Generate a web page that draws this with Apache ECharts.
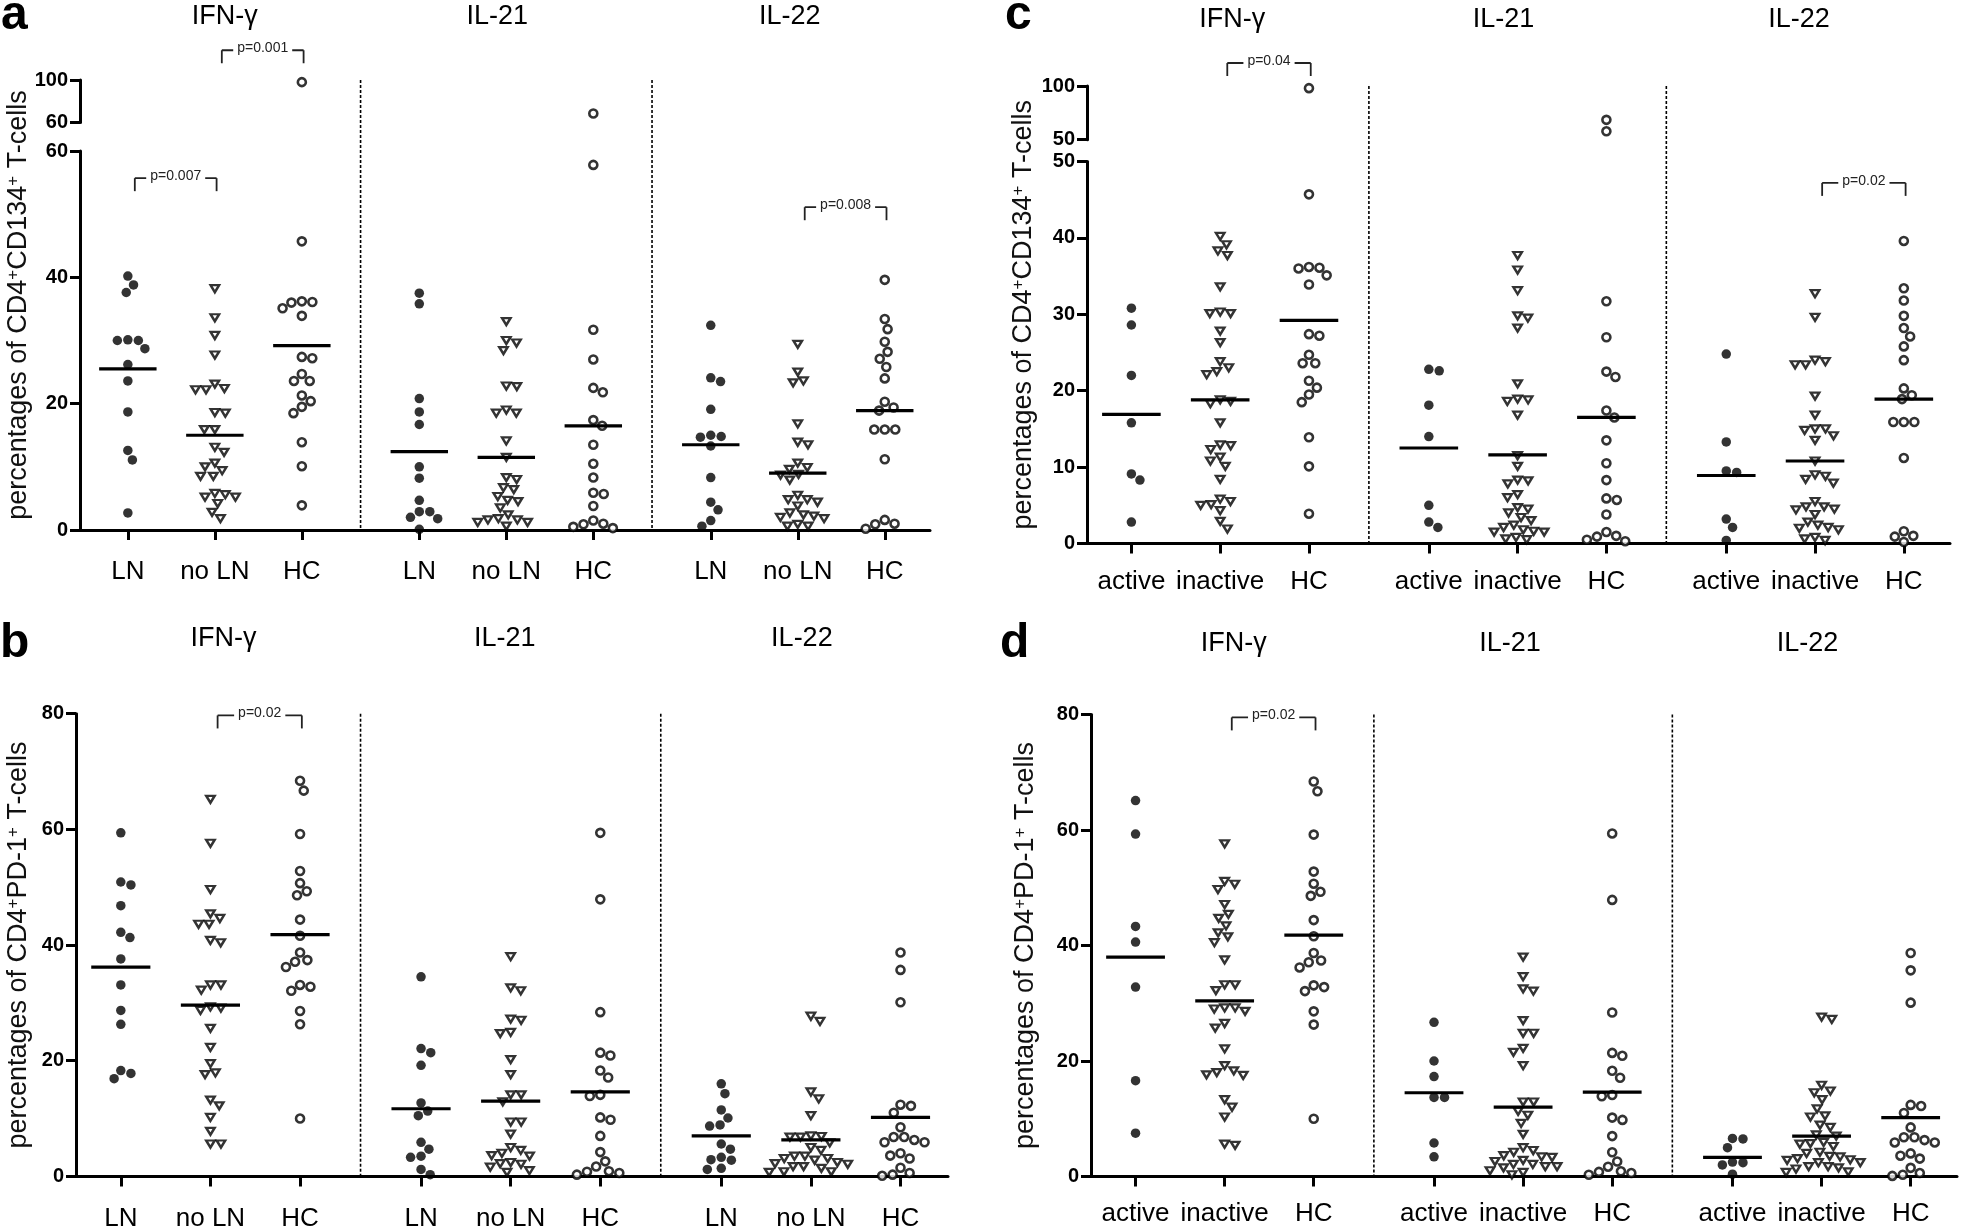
<!DOCTYPE html>
<html><head><meta charset="utf-8">
<script src="https://cdn.jsdelivr.net/npm/echarts@6/dist/echarts.min.js"></script>
<style>html,body{margin:0;padding:0;background:#fff}#c{width:1961px;height:1232px}</style>
</head><body><div id="c"></div>
<script>
const FONT = "'Liberation Sans', Arial, Helvetica, sans-serif";

// ---------- labels ----------
const groupTitles = ['IFN-γ', 'IL-21', 'IL-22'];
const catsLN = ['LN', 'no LN', 'HC'];
const catsActivity = ['active', 'inactive', 'HC'];
const nameCD134 = 'percentages of CD4{s|+}CD134{s|+} T-cells';
const namePD1 = 'percentages of CD4{s|+}PD-1{s|+} T-cells';

// ---------- healthy controls (shared by a/c and by b/d) ----------
const hcCD134_IFN = [98, 45.7, 36.2, 36.1, 36.0, 35.1, 33.9, 27.4, 27.2, 24.7, 23.6, 23.6, 21.3, 20.4, 19.5, 18.5, 13.9, 10.1, 3.9];
const hcCD134_IL21 = [68.5, 57.8, 31.7, 27.0, 22.5, 21.8, 17.4, 16.5, 13.5, 10.5, 8.3, 5.7, 5.9, 3.8, 1.5, 0.9, 0.3, 0.5, 1.0];
const hcCD134_IL22 = [39.6, 33.4, 31.8, 29.8, 28.2, 27.1, 25.8, 24.0, 20.3, 19.4, 18.9, 15.9, 15.9, 15.9, 11.2, 1.0, 0.2, 0.9, 1.6];
const hcPD1_IFN = [68.4, 66.7, 59.2, 52.8, 50.7, 49.3, 48.6, 44.4, 41.6, 38.7, 37.1, 36.2, 37.4, 33.1, 32.1, 32.8, 28.6, 26.3, 10.0];
const hcPD1_IL21 = [59.4, 47.9, 28.4, 20.9, 21.4, 18.3, 17.1, 13.9, 14.1, 10.2, 9.8, 7.0, 4.2, 1.7, 0.8, 0.3, 0.6, 0.9, 2.6];
const hcPD1_IL22 = [38.7, 35.7, 30.1, 12.4, 11.0, 12.2, 8.5, 6.8, 5.9, 5.9, 6.3, 6.8, 3.6, 3.1, 4.0, 0.6, 0.1, 0.3, 1.5];

// ---------- panel a (CD134, LN / no LN) ----------
const a_IFN_LN = [40.2, 38.8, 37.6, 30.1, 30.0, 30.0, 28.7, 26.2, 23.6, 18.7, 12.6, 11.1, 2.7];
const a_IFN_noLN = [38.2, 33.6, 30.8, 27.7, 23.1, 22.2, 22.2, 22.4, 18.5, 18.6, 15.9, 15.9, 13.1, 12.3, 10.6, 10.0, 9.4, 8.5, 8.5, 5.6, 5.2, 5.2, 5.8, 4.2, 2.8, 1.8];
const a_IL21_LN = [37.5, 35.8, 20.8, 18.7, 16.7, 10.0, 8.2, 4.7, 2.9, 2.9, 2.0, 1.8, 0.1];
const a_IL21_noLN = [33.0, 29.6, 30.0, 28.4, 22.7, 22.8, 18.5, 18.5, 19.0, 14.1, 11.5, 8.0, 8.3, 6.4, 6.7, 5.3, 4.5, 4.7, 3.5, 2.4, 1.6, 1.2, 1.2, 1.6, 1.8, 0.6];
const a_IL22_LN = [32.4, 24.1, 23.5, 19.1, 15.0, 14.7, 14.8, 13.3, 8.3, 4.4, 3.2, 1.5, 0.6];
const a_IL22_noLN = [29.4, 25.0, 23.6, 23.3, 16.8, 13.9, 13.5, 10.6, 9.6, 8.7, 7.9, 8.8, 9.9, 5.5, 4.8, 4.8, 3.8, 4.4, 2.7, 2.4, 2.0, 2.2, 1.8, 0.9, 0.6, 0.6];
const meansA = [[25.5, 15.0, 29.2], [12.4, 11.5, 16.5], [13.5, 9.0, 18.9]];
const bracketsA = [{from: 0, to: 1, y: 55.7, text: 'p=0.007'}, {from: 1, to: 2, y: 128, text: 'p=0.001'}, {from: 7, to: 8, y: 51.1, text: 'p=0.008'}];

// ---------- panel c (CD134, active / inactive) ----------
const c_IFN_active = [30.8, 28.6, 22.0, 15.8, 9.1, 8.3, 2.8];
const c_IFN_inactive = [40.2, 39.1, 38.3, 37.7, 33.6, 30.1, 30.1, 30.3, 27.8, 26.3, 23.8, 22.5, 22.1, 23.0, 18.8, 18.3, 18.6, 15.8, 12.8, 12.9, 12.3, 11.3, 10.8, 10.1, 8.4, 5.5, 5.0, 4.3, 5.1, 5.8, 2.9, 1.9];
const c_IL21_active = [22.6, 22.8, 18.1, 14.0, 5.0, 2.1, 2.8];
const c_IL21_inactive = [37.7, 35.8, 33.1, 29.5, 29.8, 28.2, 20.9, 18.9, 18.6, 18.8, 16.8, 11.5, 10.1, 8.2, 8.3, 7.8, 6.4, 6.0, 4.7, 4.5, 4.0, 3.4, 3.0, 2.4, 2.1, 1.8, 1.5, 1.6, 1.5, 0.8, 0.5, 0.6];
const c_IL22_active = [24.8, 13.3, 9.3, 9.5, 3.2, 2.1, 0.4];
const c_IL22_inactive = [32.7, 29.6, 23.8, 23.4, 23.4, 24.0, 19.3, 16.8, 15.0, 14.1, 13.5, 14.8, 15.0, 10.8, 9.0, 8.4, 7.9, 8.8, 4.8, 4.5, 4.8, 5.5, 3.8, 4.4, 2.8, 2.4, 2.0, 1.8, 2.1, 0.8, 0.4, 0.6];
const meansC = [[16.9, 18.8, 29.2], [12.5, 11.6, 16.5], [8.9, 10.8, 18.9]];
const bracketsC = [{from: 1, to: 2, y: 121.4, text: 'p=0.04'}, {from: 7, to: 8, y: 47.2, text: 'p=0.02'}];

// ---------- panel b (PD-1, LN / no LN) ----------
const b_IFN_LN = [59.4, 50.9, 50.4, 46.8, 42.2, 41.3, 37.6, 33.1, 28.7, 26.3, 18.3, 17.8, 16.9];
const b_IFN_noLN = [65.2, 57.6, 49.6, 45.4, 43.6, 43.6, 44.6, 40.4, 40.8, 33.1, 32.2, 33.1, 29.3, 28.7, 29.1, 25.6, 22.3, 19.5, 17.9, 17.6, 13.2, 12.2, 10.2, 7.8, 5.6, 5.6];
const b_IL21_LN = [34.5, 22.1, 21.4, 19.2, 12.7, 11.3, 10.5, 5.9, 4.7, 3.5, 3.3, 1.2, 0.3];
const b_IL21_noLN = [38.0, 32.6, 32.1, 27.0, 27.2, 24.7, 24.9, 20.2, 17.6, 14.1, 14.1, 12.9, 9.4, 9.4, 7.3, 4.5, 3.6, 3.5, 4.0, 5.0, 2.4, 1.6, 0.7, 1.0, 2.1, 2.2];
const b_IL22_LN = [16.0, 14.3, 11.5, 10.1, 8.7, 8.9, 5.6, 4.7, 3.3, 2.9, 2.8, 1.2, 1.4];
const b_IL22_noLN = [27.7, 26.8, 13.4, 14.6, 10.5, 7.0, 6.8, 6.9, 6.8, 5.8, 5.0, 4.5, 3.5, 3.1, 3.1, 3.5, 2.8, 2.4, 2.1, 1.7, 1.4, 1.7, 2.2, 0.8, 0.7, 0.8];
const meansB = [[36.2, 29.6, 41.8], [11.7, 13.0, 14.6], [7.0, 6.3, 10.2]];
const bracketsB = [{from: 1, to: 2, y: 79.7, text: 'p=0.02'}];

// ---------- panel d (PD-1, active / inactive) ----------
const d_IFN_active = [65.1, 59.3, 43.3, 40.6, 32.8, 16.6, 7.5];
const d_IFN_inactive = [57.6, 51.1, 49.7, 50.6, 47.1, 45.4, 43.4, 44.7, 41.5, 40.5, 42.2, 37.5, 33.2, 32.2, 33.2, 29.0, 28.6, 29.2, 29.2, 26.5, 25.7, 22.1, 18.3, 17.6, 17.5, 18.0, 19.2, 13.3, 12.0, 10.3, 5.4, 5.6];
const d_IL21_active = [26.7, 20.0, 17.3, 13.7, 13.7, 5.8, 3.4];
const d_IL21_inactive = [38.0, 34.6, 32.5, 32.1, 27.0, 24.8, 24.8, 22.2, 21.5, 19.2, 12.9, 12.9, 11.3, 10.6, 9.2, 7.3, 5.0, 4.5, 3.6, 3.3, 3.4, 4.2, 2.1, 1.7, 1.7, 2.1, 1.5, 1.0, 0.7, 2.8, 2.6, 0.3];
const d_IL22_active = [6.6, 6.5, 5.0, 2.5, 2.4, 2.0, 0.4];
const d_IL22_inactive = [27.2, 27.6, 14.8, 14.5, 13.3, 15.8, 11.7, 10.5, 8.9, 8.5, 10.3, 7.0, 5.9, 5.6, 5.7, 7.2, 5.2, 4.2, 3.4, 3.1, 3.5, 4.0, 2.4, 1.7, 1.5, 1.7, 2.4, 1.3, 0.7, 2.9, 2.8, 0.8];
const meansD = [[38.0, 30.4, 41.8], [14.5, 12.0, 14.6], [3.3, 7.0, 10.2]];
const bracketsD = [{from: 1, to: 2, y: 79.5, text: 'p=0.02'}];

// ---------- layout ----------
const positions = [0, 1, 2, 3.35, 4.35, 5.35, 6.7, 7.7, 8.7];
const separators = [2.675, 6.025];

const panels = [
  {letter: 'a', letterXY: [1, 16], cats: catsLN, name: nameCD134, left: 80, width: 850, xMin: -0.55, xMax: 9.22,
   lower: {top: 151, height: 379, max: 60, interval: 20}, upper: {top: 80, height: 42.5, min: 60, max: 100, interval: 40},
   nameGap: 48, labelMargin: 29, titleY: 16.5, titleDx: [10, -9, -8],
   groups: [[a_IFN_LN, a_IFN_noLN, hcCD134_IFN], [a_IL21_LN, a_IL21_noLN, hcCD134_IL21], [a_IL22_LN, a_IL22_noLN, hcCD134_IL22]],
   means: meansA, brackets: bracketsA},
  {letter: 'c', letterXY: [1005, 16], cats: catsActivity, name: nameCD134, left: 1087, width: 863, xMin: -0.5, xMax: 9.22,
   lower: {top: 161.5, height: 382, max: 50, interval: 10}, upper: {top: 86, height: 53.7, min: 50, max: 100, interval: 50},
   nameGap: 50, labelMargin: 25, titleY: 20, titleDx: [12, -14, -16],
   groups: [[c_IFN_active, c_IFN_inactive, hcCD134_IFN], [c_IL21_active, c_IL21_inactive, hcCD134_IL21], [c_IL22_active, c_IL22_inactive, hcCD134_IL22]],
   means: meansC, brackets: bracketsC},
  {letter: 'b', letterXY: [0, 644], cats: catsLN, name: namePD1, left: 76, width: 872, xMin: -0.5, xMax: 9.23,
   lower: {top: 713.7, height: 462.7, max: 80, interval: 20}, upper: null,
   nameGap: 44, labelMargin: 29, titleY: 639, titleDx: [13, -6, -9],
   groups: [[b_IFN_LN, b_IFN_noLN, hcPD1_IFN], [b_IL21_LN, b_IL21_noLN, hcPD1_IL21], [b_IL22_LN, b_IL22_noLN, hcPD1_IL22]],
   means: meansB, brackets: bracketsB},
  {letter: 'd', letterXY: [1000, 644], cats: catsActivity, name: namePD1, left: 1091, width: 866, xMin: -0.5, xMax: 9.22,
   lower: {top: 714.5, height: 462, max: 80, interval: 20}, upper: null,
   nameGap: 52, labelMargin: 24, titleY: 644, titleDx: [9, -13, -14],
   groups: [[d_IFN_active, d_IFN_inactive, hcPD1_IFN], [d_IL21_active, d_IL21_inactive, hcPD1_IL21], [d_IL22_active, d_IL22_inactive, hcPD1_IL22]],
   means: meansD, brackets: bracketsD}
];

const markerStyles = [
  {symbol: 'circle', symbolSize: 9.5, itemStyle: {color: '#000'}},
  {symbol: 'triangle', symbolSize: [8.5, 7], symbolRotate: 180, itemStyle: {color: '#fff', borderColor: '#000', borderWidth: 2.4}},
  {symbol: 'circle', symbolSize: 8, itemStyle: {color: '#fff', borderColor: '#000', borderWidth: 2.6}}
];

// continuous beeswarm layout in pixel space (horizontal offsets only)
function swarm(pys, D) {
  const order = pys.map((_, i) => i).sort((p, q) => pys[p] - pys[q]);
  const placed = [];
  const off = new Array(pys.length).fill(0);
  for (const i of order) {
    const y = pys[i];
    const near = placed.filter(p => Math.abs(p.y - y) < D);
    const bal = placed.filter(p => Math.abs(p.y - y) < 2 * D).reduce((s, p) => s + p.x, 0);
    const cands = [0];
    near.forEach(p => {
      const dx = Math.sqrt(D * D - (p.y - y) * (p.y - y)) + 0.01;
      cands.push(p.x + dx, p.x - dx);
    });
    cands.sort((u, v) => (Math.abs(u) + (u * bal > 0 ? 0.5 : 0)) - (Math.abs(v) + (v * bal > 0 ? 0.5 : 0)));
    let chosen = 0;
    for (const c of cands) {
      if (near.every(p => Math.hypot(p.x - c, p.y - y) >= D - 0.001)) { chosen = c; break; }
    }
    off[i] = chosen;
    placed.push({x: chosen, y});
  }
  return off;
}

const option = {animation: false, backgroundColor: '#fff', grid: [], xAxis: [], yAxis: [], series: [], graphic: []};
const axisLine = () => ({show: true, onZero: false, lineStyle: {color: '#000', width: 3}});
const axisTick = () => ({show: true, length: 10, lineStyle: {color: '#000', width: 3}});
const yLabel = () => ({show: true, margin: 12, fontSize: 20, fontWeight: 'bold', fontFamily: FONT, color: '#000'});
function addGrid(g) {
  option.grid.push(Object.assign({containLabel: false, outerBoundsMode: 'none'}, g));
  return option.grid.length - 1;
}

panels.forEach(P => {
  const unit = P.width / (P.xMax - P.xMin);
  const catLabel = v => {
    let best = 0;
    positions.forEach((p, i) => { if (Math.abs(p - v) < Math.abs(positions[best] - v)) best = i; });
    return P.cats[best % 3];
  };
  // lower grid
  const lo = addGrid({left: P.left, top: P.lower.top, width: P.width, height: P.lower.height});
  option.xAxis.push({gridIndex: lo, type: 'value', min: P.xMin, max: P.xMax, axisLine: axisLine(),
    axisTick: Object.assign(axisTick(), {customValues: positions}),
    axisLabel: {show: true, customValues: positions, formatter: catLabel, margin: P.labelMargin, fontSize: 26, fontFamily: FONT, color: '#000'},
    splitLine: {show: false}});
  option.yAxis.push({gridIndex: lo, type: 'value', min: 0, max: P.lower.max, interval: P.lower.interval,
    axisLine: axisLine(), axisTick: axisTick(), axisLabel: yLabel(), splitLine: {show: false}});
  // upper grid (broken axis)
  let up = -1;
  if (P.upper) {
    up = addGrid({left: P.left, top: P.upper.top, width: P.width, height: P.upper.height});
    option.xAxis.push({gridIndex: up, type: 'value', min: P.xMin, max: P.xMax, show: false});
    option.yAxis.push({gridIndex: up, type: 'value', min: P.upper.min, max: P.upper.max, interval: P.upper.interval,
      axisLine: axisLine(), axisTick: axisTick(), axisLabel: yLabel(), splitLine: {show: false}});
  }
  // frame grid: separators + axis name
  const fTop = P.upper ? P.upper.top : P.lower.top;
  const fr = addGrid({left: P.left, top: fTop, width: P.width, height: P.lower.top + P.lower.height - fTop});
  option.xAxis.push({gridIndex: fr, type: 'value', min: P.xMin, max: P.xMax, show: false});
  option.yAxis.push({gridIndex: fr, type: 'value', min: 0, max: 1, show: true,
    axisLine: {show: false}, axisTick: {show: false}, axisLabel: {show: false}, splitLine: {show: false},
    name: P.name, nameLocation: 'middle', nameRotate: 90, nameGap: P.nameGap,
    nameTextStyle: {fontSize: 27, fontFamily: FONT, color: '#111',
      rich: {s: {fontSize: 17, fontFamily: FONT, color: '#111', verticalAlign: 'top'}}}});

  option.series.push({type: 'custom', xAxisIndex: fr, yAxisIndex: fr, silent: true, z: 1,
    data: separators.map(s => [s, 0]), encode: {x: 0, y: 1},
    renderItem: (params, api) => {
      const t = api.coord([api.value(0), 1]);
      const b = api.coord([api.value(0), 0]);
      return {type: 'line', shape: {x1: t[0], y1: t[1], x2: b[0], y2: b[1]},
        style: {stroke: '#000', lineWidth: 1.6, lineDash: [3, 2]}};
    }});

  const pyFn = v => (P.upper && v > P.upper.min)
    ? P.upper.top + (P.upper.max - v) / (P.upper.max - P.upper.min) * P.upper.height
    : P.lower.top + (P.lower.max - v) / P.lower.max * P.lower.height;

  const meanData = [];
  P.groups.forEach((grp, g) => {
    grp.forEach((vals, i) => {
      const pos = positions[g * 3 + i];
      const offs = swarm(vals.map(pyFn), 10.5);
      const lowData = [], upData = [];
      vals.forEach((v, k) => {
        const pt = [pos + offs[k] / unit, v];
        (P.upper && v > P.upper.min ? upData : lowData).push(pt);
      });
      const ms = markerStyles[i];
      option.series.push(Object.assign({type: 'scatter', xAxisIndex: lo, yAxisIndex: lo, data: lowData, clip: false, silent: true, z: 3}, ms));
      if (upData.length) option.series.push(Object.assign({type: 'scatter', xAxisIndex: up, yAxisIndex: up, data: upData, clip: false, silent: true, z: 3}, ms));
      meanData.push([pos, P.means[g][i]]);
    });
    // group title
    const cx = P.left + (positions[g * 3 + 1] - P.xMin) * unit + P.titleDx[g];
    option.graphic.push({type: 'text', x: cx, y: P.titleY, silent: true,
      style: {text: groupTitles[g], font: `27px ${FONT}`, fill: '#000', align: 'center', verticalAlign: 'middle', textAlign: 'center', textVerticalAlign: 'middle'}});
  });
  option.series.push({type: 'custom', xAxisIndex: lo, yAxisIndex: lo, silent: true, z: 5,
    data: meanData, encode: {x: 0, y: 1},
    renderItem: (params, api) => {
      const a = api.coord([api.value(0) - 0.33, api.value(1)]);
      const b = api.coord([api.value(0) + 0.33, api.value(1)]);
      return {type: 'line', shape: {x1: a[0], y1: a[1], x2: b[0], y2: b[1]}, style: {stroke: '#000', lineWidth: 3.2}};
    }});

  // significance brackets
  P.brackets.forEach(br => {
    const inUpper = P.upper && br.y > P.lower.max;
    const gi = inUpper ? up : lo;
    option.series.push({type: 'custom', xAxisIndex: gi, yAxisIndex: gi, silent: true, z: 6, clip: false,
      data: [[positions[br.from] + 0.08, br.y, positions[br.to] + 0.02]], encode: {x: [0, 2], y: 1},
      renderItem: (params, api) => {
        const p1 = api.coord([api.value(0), api.value(1)]);
        const p2 = api.coord([api.value(2), api.value(1)]);
        const st = {stroke: '#222', lineWidth: 1.8};
        return {type: 'group', children: [
          {type: 'line', shape: {x1: p1[0], y1: p1[1], x2: p2[0], y2: p2[1]}, style: st},
          {type: 'line', shape: {x1: p1[0], y1: p1[1], x2: p1[0], y2: p1[1] + 13}, style: st},
          {type: 'line', shape: {x1: p2[0], y1: p2[1], x2: p2[0], y2: p2[1] + 13}, style: st},
          {type: 'text', x: (p1[0] + p2[0]) / 2, y: p1[1] - 2,
           style: {text: br.text, font: `14px ${FONT}`, fill: '#222', align: 'center', verticalAlign: 'middle',
                   backgroundColor: '#fff', padding: [1, 4]}}
        ]};
      }});
  });

  // panel letter
  option.graphic.push({type: 'text', x: P.letterXY[0], y: P.letterXY[1], silent: true,
    style: {text: P.letter, font: `bold 48px ${FONT}`, fill: '#000', align: 'left', verticalAlign: 'middle', textAlign: 'left', textVerticalAlign: 'middle'}});
});

const chart = echarts.init(document.getElementById('c'), null, {renderer: 'canvas', width: 1961, height: 1232});
chart.setOption(option);
</script>
</body></html>
